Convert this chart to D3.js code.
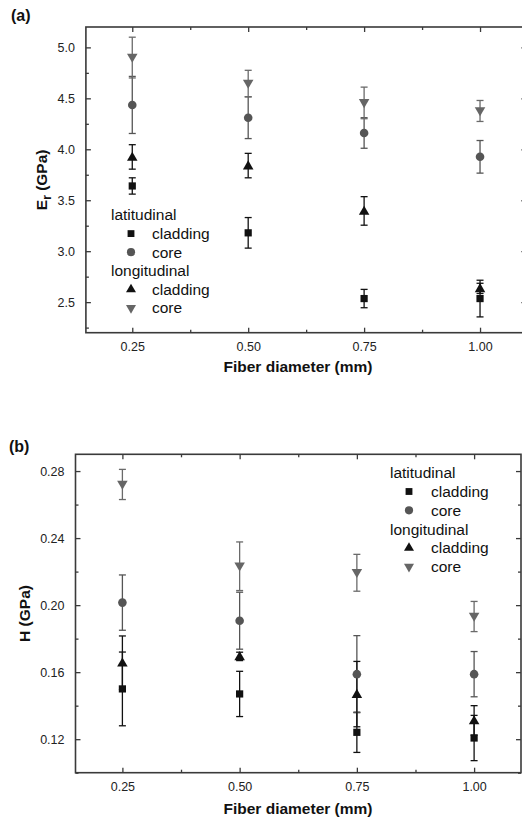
<!DOCTYPE html>
<html><head><meta charset="utf-8">
<script src="https://cdn.jsdelivr.net/npm/d3@7"></script>
<style>
html,body{margin:0;padding:0;background:#fff;}
svg{display:block;font-family:"Liberation Sans",Arial,Helvetica,sans-serif;}
</style></head>
<body>
<svg id="c" width="522" height="817"></svg>
<script>
// ---------- data ----------
const diameters = [0.25, 0.50, 0.75, 1.00];
const xTicks = [0.25, 0.50, 0.75, 1.00];
const xTickLabels = ["0.25", "0.50", "0.75", "1.00"];

// Panel (a): reduced modulus Er (GPa)
const aLatClad = [3.64, 3.18, 2.535, 2.535];
const aLatCladErr = [0.08, 0.15, 0.09, 0.18];
const aLatCore = [4.435, 4.31, 4.16, 3.926];
const aLatCoreErr = [0.28, 0.205, 0.15, 0.16];
const aLonClad = [3.925, 3.84, 3.395, 2.635];
const aLonCladErr = [0.12, 0.12, 0.14, 0.05];
const aLonCore = [4.9, 4.645, 4.455, 4.376];
const aLonCoreErr = [0.2, 0.13, 0.155, 0.103];
const aYTicks = [2.5, 3.0, 3.5, 4.0, 4.5, 5.0];

// Panel (b): hardness H (GPa)
const bLatClad = [0.150, 0.147, 0.1241, 0.1207];
const bLatCladErr = [0.022, 0.0135, 0.012, 0.0135];
const bLatCore = [0.2015, 0.1907, 0.1588, 0.1588];
const bLatCoreErr = [0.0165, 0.017, 0.023, 0.0135];
const bLonClad = [0.1656, 0.1694, 0.1469, 0.1312];
const bLonCladErr = [0.016, 0.0025, 0.0195, 0.0088];
const bLonCore = [0.272, 0.2232, 0.2193, 0.1932];
const bLonCoreErr = [0.009, 0.0145, 0.011, 0.009];
const bYTicks = [0.12, 0.16, 0.20, 0.24, 0.28];

const legendGroups = ["latitudinal", "longitudinal"];
const legendItems = ["cladding", "core"];

// ---------- styles ----------
const colBlack = "#111";
const colCore = "#555";
const colCoreTri = "#666";
const axisCol = "#3a3a3a";

const svg = d3.select("#c");

function symPath(type, size) {
  return d3.symbol().type(type).size(size)();
}
const shapes = {
  latClad: {type: d3.symbolSquare, size: 52, col: colBlack, errCol: colBlack, rot: 0},
  latCore: {type: d3.symbolCircle, size: 58, col: colCore, errCol: colCore, rot: 0},
  lonClad: {type: d3.symbolTriangle, size: 48, col: colBlack, errCol: colBlack, rot: 0},
  lonCore: {type: d3.symbolTriangle, size: 48, col: colCoreTri, errCol: "#6a6a6a", rot: 180}
};

function drawPanel(cfg) {
  const g = svg.append("g");
  const x = d3.scaleLinear().domain([0.15, 1.1]).range(cfg.xRange);
  const y = d3.scaleLinear().domain(cfg.yDomain).range(cfg.yRange);
  const [x0, x1] = cfg.xRange;
  const [yb, yt] = cfg.yRange;

  // frame
  g.append("rect").attr("x", x0).attr("y", yt).attr("width", x1 - x0).attr("height", yb - yt)
    .attr("fill", "none").attr("stroke", axisCol).attr("stroke-width", 1.6);

  // x axis ticks (bottom and top, inward)
  const xMinor = [0.375, 0.625, 0.875];
  const bottom = g.append("g").attr("transform", `translate(0,${yb})`)
    .call(d3.axisBottom(x).tickValues(xTicks).tickSizeInner(-5).tickSizeOuter(0)
      .tickPadding(9).tickFormat((d, i) => xTickLabels[i]));
  bottom.select(".domain").remove();
  bottom.selectAll("line").attr("stroke", axisCol).attr("stroke-width", 1.3);
  bottom.selectAll("text").attr("font-size", 12.5).attr("fill", "#222")
    .attr("font-family", "Liberation Sans, Arial, sans-serif");
  const bMin = g.append("g").attr("transform", `translate(0,${yb})`)
    .call(d3.axisBottom(x).tickValues(xMinor).tickSize(-3).tickFormat(""));
  bMin.select(".domain").remove();
  bMin.selectAll("line").attr("stroke", axisCol).attr("stroke-width", 1.3);
  const top = g.append("g").attr("transform", `translate(0,${yt})`)
    .call(d3.axisTop(x).tickValues(xTicks).tickSize(-5).tickFormat(""));
  top.select(".domain").remove();
  top.selectAll("line").attr("stroke", axisCol).attr("stroke-width", 1.3);
  const tMin = g.append("g").attr("transform", `translate(0,${yt})`)
    .call(d3.axisTop(x).tickValues(xMinor).tickSize(-3).tickFormat(""));
  tMin.select(".domain").remove();
  tMin.selectAll("line").attr("stroke", axisCol).attr("stroke-width", 1.3);

  // y axis
  const left = g.append("g").attr("transform", `translate(${x0},0)`)
    .call(d3.axisLeft(y).tickValues(cfg.yTicks).tickSizeInner(-5).tickSizeOuter(0)
      .tickPadding(11).tickFormat(cfg.yFmt));
  left.select(".domain").remove();
  left.selectAll("line").attr("stroke", axisCol).attr("stroke-width", 1.3);
  left.selectAll("text").attr("font-size", 12.5).attr("fill", "#222")
    .attr("font-family", "Liberation Sans, Arial, sans-serif");
  const lMin = g.append("g").attr("transform", `translate(${x0},0)`)
    .call(d3.axisLeft(y).tickValues(cfg.yMinor).tickSize(-3).tickFormat(""));
  lMin.select(".domain").remove();
  lMin.selectAll("line").attr("stroke", axisCol).attr("stroke-width", 1.3);
  const right = g.append("g").attr("transform", `translate(${x1},0)`)
    .call(d3.axisRight(y).tickValues(cfg.yTicks).tickSize(-5).tickFormat(""));
  right.select(".domain").remove();
  right.selectAll("line").attr("stroke", axisCol).attr("stroke-width", 1.3);
  const rMin = g.append("g").attr("transform", `translate(${x1},0)`)
    .call(d3.axisRight(y).tickValues(cfg.yMinor).tickSize(-3).tickFormat(""));
  rMin.select(".domain").remove();
  rMin.selectAll("line").attr("stroke", axisCol).attr("stroke-width", 1.3);

  // series: draw error bars then markers
  const capW = 3.5;
  cfg.series.forEach(s => {
    const sh = shapes[s.key];
    const eg = g.append("g");
    diameters.forEach((d, i) => {
      const cx = x(d), v = s.vals[i], e = s.errs[i];
      const yTop = y(v + e), yBot = y(v - e);
      eg.append("line").attr("x1", cx).attr("x2", cx).attr("y1", yTop).attr("y2", yBot)
        .attr("stroke", sh.errCol).attr("stroke-width", 1.3);
      [yTop, yBot].forEach(yy => eg.append("line").attr("x1", cx - capW).attr("x2", cx + capW)
        .attr("y1", yy).attr("y2", yy).attr("stroke", sh.errCol).attr("stroke-width", 1.3));
    });
  });
  cfg.series.forEach(s => {
    const sh = shapes[s.key];
    g.append("g").selectAll("path").data(diameters).join("path")
      .attr("d", symPath(sh.type, sh.size))
      .attr("transform", (d, i) => `translate(${x(d)},${y(s.vals[i]) + (sh.type === d3.symbolTriangle ? (sh.rot ? -0.8 : 0.8) : 0)}) rotate(${sh.rot})`)
      .attr("fill", sh.col);
  });

  // axis titles
  g.append("text").attr("x", cfg.xTitleX).attr("y", cfg.xTitleY).attr("text-anchor", "middle")
    .attr("font-size", 15.5).attr("font-weight", "bold").attr("fill", "#111")
    .text("Fiber diameter (mm)");
  const yt1 = g.append("text").attr("transform", `translate(${cfg.yTitleX},${(yt + yb) / 2}) rotate(-90)`)
    .attr("text-anchor", "middle").attr("font-size", 15.5).attr("font-weight", "bold").attr("fill", "#111");
  if (cfg.yTitleSub) {
    yt1.append("tspan").text(cfg.yTitleMain);
    yt1.append("tspan").attr("dy", 4).attr("font-size", 12).text(cfg.yTitleSub);
    yt1.append("tspan").attr("dy", -4).text(" (GPa)");
  } else {
    yt1.text(cfg.yTitleMain + " (GPa)");
  }
  // panel label
  g.append("text").attr("x", cfg.labelX).attr("y", cfg.labelY).attr("font-size", 16)
    .attr("font-weight", "bold").attr("fill", "#111").text(cfg.label);

  // legend
  const lg = g.append("g");
  const rows = [
    {kind: "head", text: legendGroups[0]},
    {kind: "item", key: "latClad", text: legendItems[0]},
    {kind: "item", key: "latCore", text: legendItems[1]},
    {kind: "head", text: legendGroups[1]},
    {kind: "item", key: "lonClad", text: legendItems[0]},
    {kind: "item", key: "lonCore", text: legendItems[1]}
  ];
  rows.forEach((r, i) => {
    const ry = cfg.legY + i * cfg.legDy;
    if (r.kind === "head") {
      lg.append("text").attr("x", cfg.legX).attr("y", ry).attr("dy", "0.35em")
        .attr("font-size", 15.5).attr("fill", "#111").text(r.text);
    } else {
      const sh = shapes[r.key];
      lg.append("path").attr("d", symPath(sh.type, sh.size * 0.9))
        .attr("transform", `translate(${cfg.legSymX},${ry}) rotate(${sh.rot})`).attr("fill", sh.col);
      lg.append("text").attr("x", cfg.legTextX).attr("y", ry).attr("dy", "0.35em")
        .attr("font-size", 15.5).attr("fill", "#111").text(r.text);
    }
  });
}

drawPanel({
  label: "(a)", labelX: 11, labelY: 21,
  xRange: [85.9, 526.4], yDomain: [2.2, 5.2], yRange: [332.7, 27],
  yTicks: aYTicks, yMinor: [2.25, 2.75, 3.25, 3.75, 4.25, 4.75],
  yFmt: d3.format(".1f"),
  yTitleMain: "E", yTitleSub: "r", yTitleX: 47,
  xTitleX: 298, xTitleY: 372,
  legX: 111, legSymX: 131, legTextX: 152, legY: 215, legDy: 18.6,
  series: [
    {key: "latClad", vals: aLatClad, errs: aLatCladErr},
    {key: "latCore", vals: aLatCore, errs: aLatCoreErr},
    {key: "lonClad", vals: aLonClad, errs: aLonCladErr},
    {key: "lonCore", vals: aLonCore, errs: aLonCoreErr}
  ]
});

drawPanel({
  label: "(b)", labelX: 9, labelY: 452,
  xRange: [75.5, 521], yDomain: [0.10, 0.29], yRange: [772.7, 454.3],
  yTicks: bYTicks, yMinor: [0.10, 0.14, 0.18, 0.22, 0.26],
  yFmt: d3.format(".2f"),
  yTitleMain: "H", yTitleSub: null, yTitleX: 30,
  xTitleX: 298, xTitleY: 814,
  legX: 390, legSymX: 409, legTextX: 431, legY: 472.7, legDy: 18.8,
  series: [
    {key: "latClad", vals: bLatClad, errs: bLatCladErr},
    {key: "latCore", vals: bLatCore, errs: bLatCoreErr},
    {key: "lonClad", vals: bLonClad, errs: bLonCladErr},
    {key: "lonCore", vals: bLonCore, errs: bLonCoreErr}
  ]
});
</script>
</body></html>
